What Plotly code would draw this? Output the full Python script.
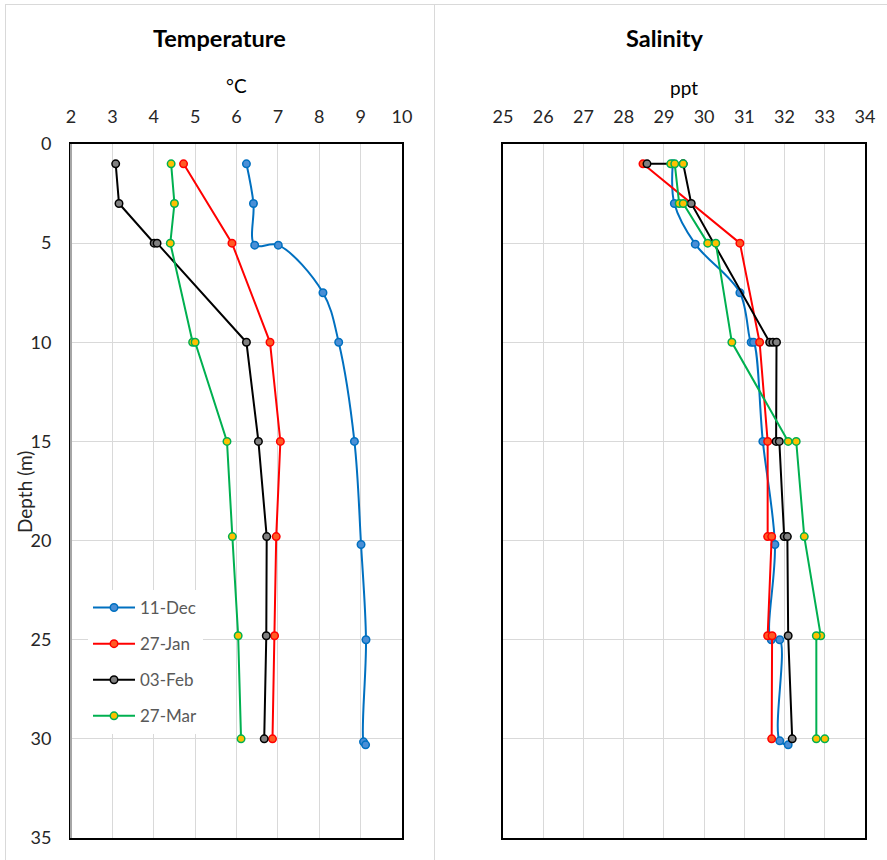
import plotly.graph_objects as go

# ---- data -------------------------------------------------------------
SERIES = ["11-Dec", "27-Jan", "03-Feb", "27-Mar"]

# Temperature profiles (depth in m, temperature in degC)
DEC_T_DEPTH = [1, 3, 5.1, 5.1, 7.5, 10, 15, 20.2, 25, 30.15, 30.3]
DEC_TEMP = [6.24, 6.41, 6.44, 7.01, 8.09, 8.47, 8.85, 9.01, 9.13, 9.07, 9.12]
JAN_T_DEPTH = [1, 5, 10, 15, 19.8, 24.8, 30]
JAN_TEMP = [4.72, 5.89, 6.81, 7.06, 6.96, 6.92, 6.87]
FEB_T_DEPTH = [1, 3, 5, 5, 10, 15, 19.8, 24.8, 30]
FEB_TEMP = [3.08, 3.16, 4.01, 4.08, 6.24, 6.53, 6.73, 6.72, 6.67]
MAR_T_DEPTH = [1, 3, 5, 10, 10, 15, 19.8, 24.8, 30]
MAR_TEMP = [4.42, 4.50, 4.40, 4.94, 5.00, 5.77, 5.90, 6.04, 6.11]

# Salinity profiles (depth in m, salinity in ppt)
DEC_S_DEPTH = [1, 3, 5.05, 7.5, 10, 10, 15, 20.2, 25, 25, 30.1, 30.3]
DEC_SAL = [29.22, 29.26, 29.78, 30.89, 31.17, 31.23, 31.46, 31.76, 31.67, 31.88, 31.88, 32.09]
JAN_S_DEPTH = [1, 5, 10, 15, 19.8, 19.8, 24.8, 24.8, 30]
JAN_SAL = [28.48, 30.89, 31.38, 31.58, 31.58, 31.68, 31.58, 31.69, 31.68]
FEB_S_DEPTH = [1, 1, 3, 10, 10, 10, 15, 15, 19.8, 19.8, 24.8, 30]
FEB_SAL = [28.58, 29.48, 29.68, 31.63, 31.71, 31.80, 31.79, 31.87, 31.99, 32.07, 32.09, 32.19]
MAR_S_DEPTH = [1, 1, 1, 3, 3, 5, 5, 10, 15, 15, 19.8, 24.8, 24.8, 30, 30]
MAR_SAL = [29.48, 29.17, 29.27, 29.38, 29.48, 30.09, 30.29, 30.69, 32.09, 32.29, 32.49, 32.90, 32.79, 32.79, 33.00]

TEMP_TICKS = [2, 3, 4, 5, 6, 7, 8, 9, 10]
SAL_TICKS = [25, 26, 27, 28, 29, 30, 31, 32, 33, 34]
DEPTH_TICKS = [0, 5, 10, 15, 20, 25, 30, 35]

# ---- styling ----------------------------------------------------------
LINE_COLORS = ["#0070C0", "#FF0000", "#000000", "#00B050"]
FILL_COLORS = ["#4A8FD6", "#FF5A24", "#808080", "#FFC000"]
SMOOTH = [True, False, False, False]
FONT = "Lato"

temp_data = [(DEC_TEMP, DEC_T_DEPTH), (JAN_TEMP, JAN_T_DEPTH),
             (FEB_TEMP, FEB_T_DEPTH), (MAR_TEMP, MAR_T_DEPTH)]
sal_data = [(DEC_SAL, DEC_S_DEPTH), (JAN_SAL, JAN_S_DEPTH),
            (FEB_SAL, FEB_S_DEPTH), (MAR_SAL, MAR_S_DEPTH)]

fig = go.Figure()


def add_profile(x, y, i, xaxis, yaxis, legend):
    fig.add_trace(go.Scatter(
        x=x, y=y, name=SERIES[i], mode="lines+markers",
        xaxis=xaxis, yaxis=yaxis, showlegend=legend, legendgroup=SERIES[i],
        line=dict(color=LINE_COLORS[i], width=2,
                  shape="spline" if SMOOTH[i] else "linear", smoothing=1),
        marker=dict(symbol="circle", size=7.5, color=FILL_COLORS[i],
                    line=dict(color=LINE_COLORS[i], width=1.5)),
    ))


for i, (x, y) in enumerate(temp_data):
    add_profile(x, y, i, "x", "y", True)
for i, (x, y) in enumerate(sal_data):
    add_profile(x, y, i, "x2", "y2", False)

W, H = 887, 860
px = lambda v: v / W
py = lambda v: 1 - v / H

tick_font = dict(family=FONT, size=18, color="#262626")
grid = "#D9D9D9"

common_x = dict(side="top", showgrid=True, gridcolor=grid, gridwidth=1,
                showline=True, linecolor="black", linewidth=2, mirror=True,
                ticks="outside", ticklen=12, tickcolor="rgba(0,0,0,0)",
                tickfont=tick_font, zeroline=False, automargin=False)
common_y = dict(range=[35, 0], autorange=False, showgrid=True, gridcolor=grid,
                gridwidth=1, showline=True, linecolor="black", linewidth=2,
                mirror=True, zeroline=False, tickvals=DEPTH_TICKS,
                tickfont=tick_font, automargin=False)

fig.update_layout(
    width=W, height=H, margin=dict(l=0, r=0, t=0, b=0, autoexpand=False),
    paper_bgcolor="white", plot_bgcolor="white",
    font=dict(family=FONT),
    xaxis=dict(common_x, domain=[px(71), px(402)], range=[2, 10],
               tickvals=TEMP_TICKS, anchor="y"),
    yaxis=dict(common_y, domain=[py(838), py(144)], anchor="x",
               ticks="outside", ticklen=14, tickcolor="rgba(0,0,0,0)"),
    xaxis2=dict(common_x, domain=[px(503), px(865)], range=[25, 34],
                tickvals=SAL_TICKS, anchor="y2"),
    yaxis2=dict(common_y, domain=[py(838), py(144)], anchor="x2",
                showticklabels=False),
    legend=dict(x=px(88), y=py(590), xanchor="left", yanchor="top",
                bgcolor="white", borderwidth=0, tracegroupgap=11,
                itemwidth=42,
                font=dict(family=FONT, size=17, color="#595959")),
)

annotations = [
    dict(text="<b>Temperature</b>", x=px(219), y=py(38), size=23.5),
    dict(text="<b>Salinity</b>", x=px(664), y=py(38), size=23.5),
    dict(text="°C", x=px(236.5), y=py(86), size=19),
    dict(text="ppt", x=px(684), y=py(87), size=19),
]
for a in annotations:
    fig.add_annotation(text=a["text"], x=a["x"], y=a["y"], xref="paper",
                       yref="paper", showarrow=False, xanchor="center",
                       yanchor="middle",
                       font=dict(family=FONT, size=a["size"], color="black"))
fig.add_annotation(text="Depth (m)", x=px(25), y=py(492), xref="paper",
                   yref="paper", showarrow=False, textangle=-90,
                   xanchor="center", yanchor="middle",
                   font=dict(family=FONT, size=19, color="#262626"))

# chart-area outlines and the grey left axis of the temperature plot
border = dict(color="#D9D9D9", width=1)
fig.add_shape(type="line", xref="paper", yref="paper", x0=px(5), x1=1,
              y0=py(4.5), y1=py(4.5), line=border)
fig.add_shape(type="line", xref="paper", yref="paper", x0=px(5.5), x1=px(5.5),
              y0=py(4), y1=0, line=border)
fig.add_shape(type="line", xref="paper", yref="paper", x0=px(434.5), x1=px(434.5),
              y0=py(4), y1=0, line=border)
fig.add_shape(type="line", xref="x domain", yref="y domain", x0=0, x1=0,
              y0=0, y1=1, line=dict(color="#A6A6A6", width=2))

fig.write_html("out.html")
